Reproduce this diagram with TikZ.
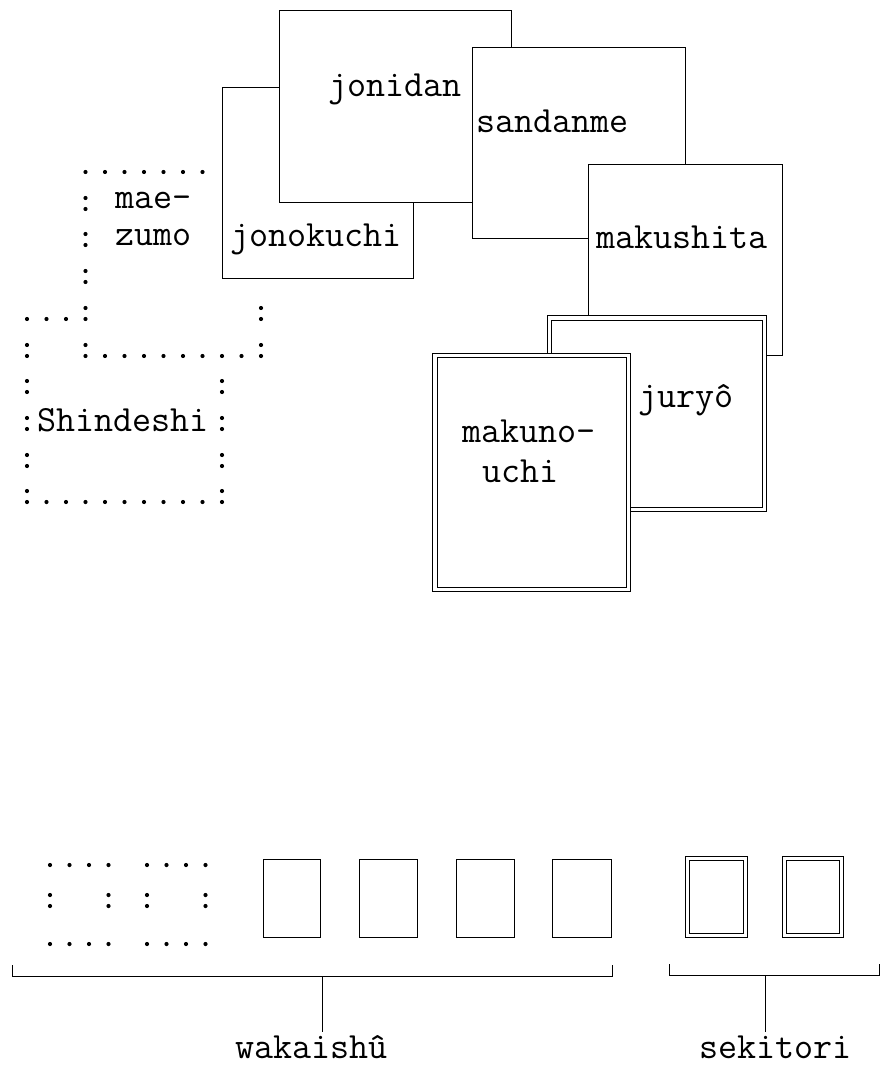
\documentclass[tikz,border=0pt]{standalone}
\usepackage{fontspec}
\tikzset{
  box/.style={draw=black, line width=0.9pt, fill=white},
  dbox/.style={draw=black, line width=0.75pt, double=white, double distance=3.8pt, fill=white},
  lbl/.style={font=\fontsize{37}{40}\selectfont\ttfamily, inner sep=0pt, anchor=base west},
  lble/.style={lbl, anchor=base east},
  pdot/.style={fill=black},
  brk/.style={draw=black, line width=0.9pt},
}
\newcommand\pdt[2]{\fill[pdot] (#1,#2) circle (2.1pt);}
\newcommand\pcol[2]{\fill[pdot] (#1,#2) circle (2.1pt) (#1,#2-11) circle (2.1pt);}
\begin{document}
\begin{tikzpicture}[x=1pt,y=-1pt]
\useasboundingbox (0,0) rectangle (884,1067);
% ---------- dotted boxes (mae-zumo, Shindeshi)
\foreach \c in {3,...,9} {\pdt{27+19.5*\c}{172}}
\foreach \r in {209,245,282} {\pcol{27+19.5*3}{\r}}
\foreach \c in {0,1,2} {\pdt{27+19.5*\c}{319}}
\pcol{27+19.5*3}{319}
\pcol{27+19.5*12}{319}
\pcol{27}{356}
\pcol{27+19.5*3}{356}
\foreach \c in {4,...,11} {\pdt{27+19.5*\c}{356}}
\pcol{27+19.5*12}{356}
\foreach \r in {392,429,466} {\pcol{27}{\r}\pcol{27+19.5*10}{\r}}
\pcol{27}{502}
\foreach \c in {1,...,9} {\pdt{27+19.5*\c}{502}}
\pcol{27+19.5*10}{502}
% ---------- solid boxes, back to front
\draw[box] (222,87) rectangle (413,278);      % jonokuchi
\draw[box] (279,10) rectangle (511,202);      % jonidan
\draw[box] (472,47) rectangle (685,238);      % sandanme
\draw[box] (588,164) rectangle (782,355);     % makushita
\draw[dbox] (549.5,318) rectangle (764.5,509.5); % juryo
\draw[dbox] (435,355.5) rectangle (628.5,589.5); % makunouchi
% ---------- labels of the upper part
\node[lbl] (maezumo1) at (115,209) {mae-};
\node[lbl] (maezumo2) at (115,245) {zumo};
\node[lbl] (shindeshi) at (37,431) {Shindeshi};
\node[lbl] (jonokuchi) at (230,247) {jonokuchi};
\node[lble] (jonidan) at (462,97) {jonidan};
\node[lbl] (sandanme) at (476,133) {sandanme};
\node[lbl] (makushita) at (596,248) {makushita};
\node[lbl] (juryo) at (638,407) {jury\^o};
\node[lbl] (makunouchi1) at (462,442) {makuno-};
\node[lbl] (makunouchi2) at (482,482) {uchi};
% ---------- lower part: small dotted boxes
\foreach \x in {50,69.5,89,108.5,147,166.5,186,205.5} {\pdt{\x}{865}\pdt{\x}{944}}
\foreach \x in {50,108.5,147,205.5} {\pcol{\x}{906}}
% small single boxes
\foreach \a/\b in {263/320,359/417,456/514,552/611} {\draw[box] (\a,859) rectangle (\b,937);}
% small double boxes
\foreach \a/\b in {687.5/745.5,784.5/841.5} {\draw[dbox] (\a,858.5) rectangle (\b,935.5);}
% brackets
\coordinate (wk) at (322,1032);
\coordinate (sk) at (765,1032);
\draw[brk] (12,965) -- (12,976) -- (612,976) -- (612,965);
\draw[brk] (322,976) -- (wk);
\draw[brk] (669,964) -- (669,975) -- (879,975) -- (879,964);
\draw[brk] (765,975) -- (sk);
\node[lbl] (wakaishu) at (235,1058) {wakaish\^u};
\node[lbl] (sekitori) at (699,1058) {sekitori};
\end{tikzpicture}
\end{document}
